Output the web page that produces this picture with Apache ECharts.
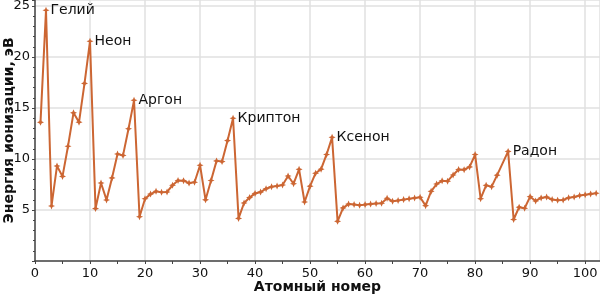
<!DOCTYPE html>
<html><head><meta charset="utf-8">
<script src="https://cdn.jsdelivr.net/npm/echarts@6/dist/echarts.min.js"></script>
<style>html,body{margin:0;padding:0;background:#fff}#c{width:600px;height:294px}</style>
</head><body><div id="c"></div>
<script>
const atomicNumbers = [1,2,3,4,5,6,7,8,9,10,11,12,13,14,15,16,17,18,19,20,21,22,23,24,25,26,27,28,29,30,31,32,33,34,35,36,37,38,39,40,41,42,43,44,45,46,47,48,49,50,51,52,53,54,55,56,57,58,59,60,61,62,63,64,65,66,67,68,69,70,71,72,73,74,75,76,77,78,79,80,81,82,83,84,86,87,88,89,90,91,92,93,94,95,96,97,98,99,100,101,102];
const energies = [13.6,24.59,5.39,9.32,8.30,11.26,14.53,13.62,17.42,21.56,5.14,7.65,5.99,8.15,10.49,10.36,12.97,15.76,4.34,6.11,6.56,6.83,6.75,6.77,7.43,7.90,7.88,7.64,7.73,9.39,6.00,7.90,9.82,9.75,11.81,14.00,4.18,5.69,6.22,6.63,6.76,7.09,7.28,7.36,7.46,8.34,7.58,8.99,5.79,7.34,8.61,9.01,10.45,12.13,3.89,5.21,5.58,5.54,5.47,5.53,5.58,5.64,5.67,6.15,5.86,5.94,6.02,6.11,6.18,6.25,5.43,6.83,7.55,7.86,7.83,8.44,8.97,8.96,9.23,10.44,6.11,7.42,7.29,8.42,10.75,4.07,5.28,5.17,6.31,5.89,6.19,6.27,6.03,5.97,5.99,6.20,6.28,6.42,6.50,6.58,6.65];
const labelled = {2:'Гелий',10:'Неон',18:'Аргон',36:'Криптон',54:'Ксенон',86:'Радон'};
const xTitle = 'Атомный номер';
const yTitle = 'Энергия ионизации, эВ';

const data = atomicNumbers.map((n,i)=>{
  const d = {value:[n, energies[i]]};
  if (labelled[n]) d.label = {show:true, position:'right', distance:1, formatter:labelled[n], color:'#111', fontSize:14, fontFamily:'DejaVu Sans'};
  return d;
});
const star = 'path://M0,-1 L0.3,-0.3 L1,0 L0.3,0.3 L0,1 L-0.3,0.3 L-1,0 L-0.3,-0.3 Z';
const chart = echarts.init(document.getElementById('c'));
chart.setOption({
  animation:false,
  textStyle:{fontFamily:'DejaVu Sans'},
  grid:{left:35, right:0, top:0, bottom:33, containLabel:false, outerBoundsMode:'none'},
  xAxis:{type:'value', min:0, max:102.7, interval:10,
    name:xTitle, nameLocation:'middle', nameGap:19, nameMoveOverlap:false,
    nameTextStyle:{fontWeight:'bold', fontSize:14, color:'#111'},
    axisLine:{onZero:false, lineStyle:{color:'#444', width:1.5}},
    axisTick:{show:true, length:3, lineStyle:{color:'#444'}},
    minorTick:{show:true, splitNumber:2, length:3, lineStyle:{color:'#444'}},
    axisLabel:{fontSize:13, color:'#111', margin:6, showMaxLabel:false},
    splitLine:{show:true, lineStyle:{color:'#e0e0e0', width:1.5}}},
  yAxis:{type:'value', min:0, max:25.6, interval:5,
    name:yTitle, nameLocation:'middle', nameGap:19, nameMoveOverlap:false,
    nameTextStyle:{fontWeight:'bold', fontSize:14, color:'#111'},
    axisLine:{show:true, lineStyle:{color:'#444', width:1.5}},
    axisTick:{show:true, length:3, lineStyle:{color:'#444'}},
    minorTick:{show:true, splitNumber:5, length:2, lineStyle:{color:'#444'}},
    axisLabel:{fontSize:13, color:'#111', margin:5, showMaxLabel:false, formatter:v=>v===0?'':String(v)},
    splitLine:{show:true, lineStyle:{color:'#e0e0e0', width:1.5}}},
  series:[{type:'line', data:data, symbol:star, symbolSize:7,
    lineStyle:{color:'#cc6633', width:2}, itemStyle:{color:'#cc6633'}}]
});
</script></body></html>
